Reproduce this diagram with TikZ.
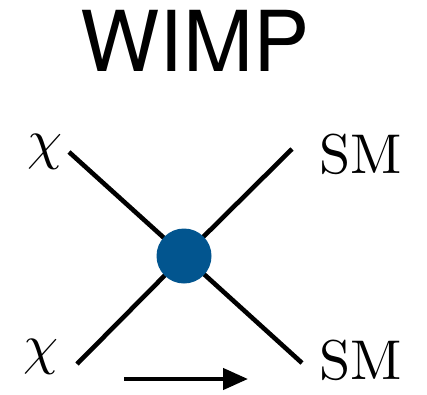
\documentclass[tikz,border=0pt]{standalone}
\usepackage{fontspec}
\usepackage{unicode-math}
\setmainfont{lmroman10-regular.otf}
\setsansfont{TeX Gyre Heros}
\usetikzlibrary{arrows.meta}

\begin{document}
\begin{tikzpicture}[
    x=1pt, y=1pt,
    leg/.style={draw=ink, line width=4.6pt},
    label/.style={text=ink, inner sep=0pt, font=\fontsize{56}{62}\selectfont},
    vertex/.style={circle, fill=blob, inner sep=0pt, minimum size=55pt},
    flow/.style={draw=ink, line width=4.4pt, -{Triangle[length=25pt,width=21pt]}}
]
\definecolor{ink}{HTML}{000000}
\definecolor{blob}{HTML}{02558F}

\useasboundingbox (0,0) rectangle (427,394);

% title
\node[text=ink, font=\sffamily\fontsize{84}{90}\selectfont, inner sep=0pt]
  (title) at (195,353) {WIMP};

% external legs
\coordinate (vc) at (184,138);
\coordinate (chiin) at (69,242);
\coordinate (chiout) at (77,30);
\coordinate (smin) at (292,245);
\coordinate (smout) at (302,31);

\draw[leg] (chiin) -- (vc);
\draw[leg] (chiout) -- (vc);
\draw[leg] (smin) -- (vc);
\draw[leg] (smout) -- (vc);

\node[vertex] (vx) at (vc) {};

% particle labels
\node[label] (chitop) at (45,242) {$\chi$};
\node[label] (chibot) at (41,37) {$\chi$};
\node[label] (smtop) at (361,240) {SM};
\node[label] (smbot) at (361,34) {SM};

% time direction
\coordinate (tstart) at (124,15);
\coordinate (tend) at (248,15);
\draw[flow] (tstart) -- (tend);
\end{tikzpicture}
\end{document}
